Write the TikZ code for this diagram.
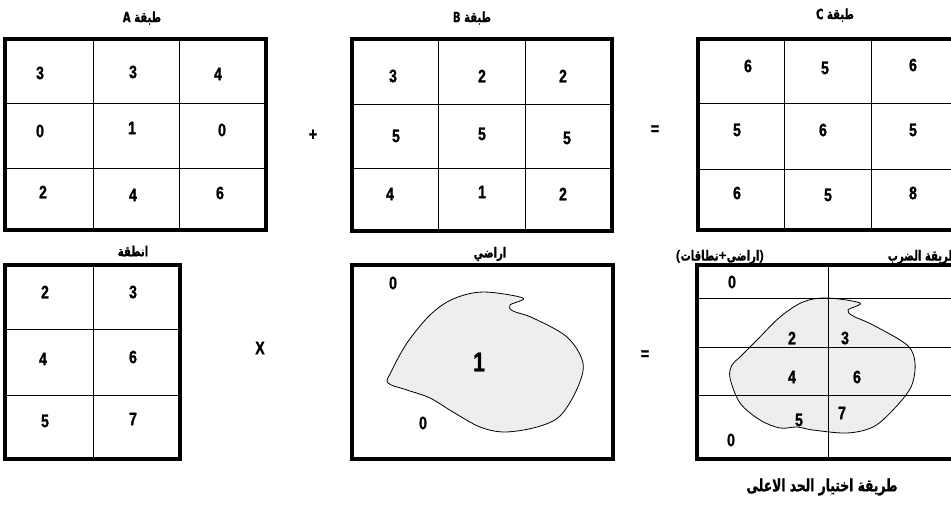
\documentclass[tikz,border=0pt]{standalone}
\usepackage{fontspec}
\setmainfont{Liberation Sans}
\newfontfamily\numfont[FakeStretch=0.78, FakeBold=1.2]{Liberation Sans}
\newfontfamily\arabicfont[Script=Arabic, FakeStretch=0.72, FakeBold=0.9]{DejaVu Sans}
\TeXXeTstate=1
\usepackage{tikz}

\begin{document}
\begin{tikzpicture}[x=1pt, y=-1pt,
  frame/.style={line width=4pt},
  cell/.style={line width=0.8pt},
  num/.style={font=\numfont\bfseries\fontsize{18}{18}\selectfont, inner sep=0pt},
  bignum/.style={font=\numfont\bfseries\fontsize{27}{27}\selectfont, inner sep=0pt},
  title/.style={font=\arabicfont\bfseries\fontsize{14}{14}\selectfont, inner sep=0pt},
  land/.style={draw, line width=0.8pt, fill=gray!13}]
  \useasboundingbox (0,0) rectangle (951,506);
  \clip (0,0) rectangle (951,506);

  % layer A
  \draw[cell] (93,39) -- (93,230) (179,39) -- (179,230)
              (5,103) -- (266,103) (5,168) -- (266,168);
  \draw[frame] (5,39) rectangle (266,230);
  \foreach \x/\y/\v/\n in {40/73/3/a1, 133/72/3/a2, 218/74/4/a3,
                           40/131/0/a4, 132/128/1/a5, 222/130/0/a6,
                           43/192/2/a7, 133/195/4/a8, 220/193/6/a9}
    \node[num] (\n) at (\x,\y) {\v};
  \node[title] (tA) at (142,18) {\beginR طبقة A\endR};

  \node[num] (plus) at (313,135) {+};

  % layer B
  \draw[cell] (438,39) -- (438,231) (525,39) -- (525,231)
              (352,104) -- (612,104) (352,168) -- (612,168);
  \draw[frame] (352,39) rectangle (612,231);
  \foreach \x/\y/\v/\n in {393/76/3/b1, 482/76/2/b2, 563/76/2/b3,
                           396/136/5/b4, 482/134/5/b5, 567/138/5/b6,
                           390/194/4/b7, 482/192/1/b8, 563/194/2/b9}
    \node[num] (\n) at (\x,\y) {\v};
  \node[title] (tB) at (472,18) {\beginR طبقة B\endR};

  \node[num] (eqtop) at (655,130) {=};

  % layer C (runs off the right edge)
  \draw[cell] (784,39) -- (784,230) (871,39) -- (871,230)
              (698,103) -- (960,103) (698,169) -- (960,169);
  \draw[frame] (698,39) rectangle (958,230);
  \foreach \x/\y/\v/\n in {748/66/6/c1, 825/68/5/c2, 913/65/6/c3,
                           737/130/5/c4, 823/130/6/c5, 913/130/5/c6,
                           737/193/6/c7, 828/195/5/c8, 913/193/8/c9}
    \node[num] (\n) at (\x,\y) {\v};
  \node[title] (tC) at (835,15) {\beginR طبقة C\endR};

  % zones
  \draw[cell] (93,265) -- (93,459) (5,329) -- (180,329) (5,395) -- (180,395);
  \draw[frame] (5,265) rectangle (180,459);
  \foreach \x/\y/\v/\n in {45/292/2/d1, 133/292/3/d2,
                           43/359/4/d3, 133/357/6/d4,
                           45/421/5/d5, 133/419/7/d6}
    \node[num] (\n) at (\x,\y) {\v};
  \node[title] (tD) at (133,251) {\beginR انطقة\endR};

  \node[num] (times) at (260,348) {X};

  % lands
  \draw[land] plot[smooth cycle, tension=0.55] coordinates {
    (483,292) (523,298) (510,305) (513,311) (533,318) (567,337) (583,363)
    (577,389) (560,416) (537,427) (505,432) (480,427) (453,412) (430,398)
    (407,390) (388,383) (391,372) (407,343) (430,315) (453,299)};
  \draw[frame] (352,265) rectangle (613,459);
  \node[num] (e0a) at (393,283) {0};
  \node[num] (e0b) at (423,423) {0};
  \node[bignum] (e1) at (479,362) {1};
  \node[title] (tE) at (490,254) {\beginR اراضي\endR};

  \node[num] (eqbot) at (645,355) {=};

  % zones + lands (runs off the right edge)
  \draw[land] plot[smooth cycle, tension=0.55] coordinates {
    (827,298) (860,303) (848,310) (853,316) (873,325) (907,345) (915,363)
    (911,387) (893,410) (873,427) (847,433) (813,430) (797,427) (780,428)
    (760,420) (740,403) (730,378) (732,365) (740,357) (757,340) (780,317)
    (803,302)};
  \draw[cell] (828,265) -- (828,459) (697,298) -- (960,298)
              (697,347) -- (960,347) (697,395) -- (960,395);
  \draw[frame] (697,265) rectangle (958,459);
  \foreach \x/\y/\v/\n in {732/282/0/f1, 792/338/2/f2, 845/338/3/f3,
                           792/377/4/f4, 857/377/6/f5, 799/420/5/f6,
                           842/413/7/f7, 731/440/0/f8}
    \node[num] (\n) at (\x,\y) {\v};
  \node[title] (tF) at (720,257)
    {\mbox{\normalfont\bfseries(}\mbox{\beginR نطاقات\endR}\mbox{\normalfont\bfseries+}\mbox{\beginR اراضي\endR}\mbox{\normalfont\bfseries)}};
  \node[title, anchor=east] (tG) at (958,257) {\beginR طريقة الضرب\endR};
  \node[title, font=\arabicfont\bfseries\fontsize{17}{17}\selectfont] (tH)
    at (822,487) {\beginR طريقة اختيار الحد الاعلى\endR};
\end{tikzpicture}
\end{document}
